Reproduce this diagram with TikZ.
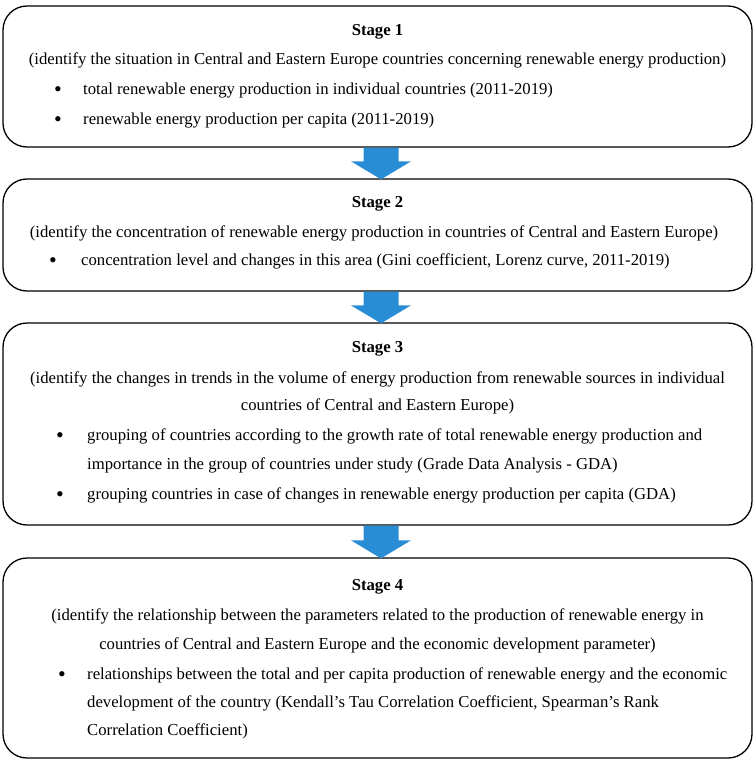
\documentclass[tikz,border=0pt]{standalone}
\usepackage{fontspec}
\setmainfont{Liberation Serif}
\usetikzlibrary{calc}
\definecolor{arrowblue}{RGB}{41,141,213}
\tikzset{
  stagebox/.style={draw=black, line width=1.3pt, rounded corners=24pt, fill=white, minimum width=749pt, inner sep=0pt},
  txt/.style={anchor=mid, inner sep=0pt, font=\fontsize{16.7}{18}\selectfont},
  ttl/.style={txt, font=\fontsize{16.7}{18}\selectfont\bfseries},
  lft/.style={txt, anchor=mid west},
  bul/.style={anchor=center, inner sep=0pt, font=\fontsize{22}{22}\selectfont},
  bigarrow/.style={fill=arrowblue}
}
\begin{document}
\begin{tikzpicture}[x=1pt,y=-1pt]
\useasboundingbox (0,0) rectangle (754,768);
% boxes
\node[stagebox, minimum height=141pt] (b1) at (377.5,76.5) {};
\node[stagebox, minimum height=112pt] (b2) at (377.5,235) {};
\node[stagebox, minimum height=202pt] (b3) at (377.5,424) {};
\node[stagebox, minimum height=200pt] (b4) at (377.5,658) {};
% arrows
\foreach \a/\b in {b1/b2,b2/b3,b3/b4}{
  \fill[bigarrow] ($(\a.south)+(-14,0)$) -- ($(\a.south)+(21,0)$) -- ($(\b.north)+(21,-17)$)
    -- ($(\b.north)+(33.5,-17)$) -- ($(\b.north)+(3.5,1)$) -- ($(\b.north)+(-26.5,-17)$)
    -- ($(\b.north)+(-14,-17)$) -- cycle;
}
% Stage 1
\node[ttl] (t1) at (377.5,33) {Stage 1};
\node[txt] (d1) at (377.5,62) {(identify the situation in Central and Eastern Europe countries concerning renewable energy production)};
\node[bul] (p1a) at (58,92) {\textbullet};
\node[lft] (l1a) at (83,92) {total renewable energy production in individual countries (2011-2019)};
\node[bul] (p1b) at (58,122) {\textbullet};
\node[lft] (l1b) at (83,122) {renewable energy production per capita (2011-2019)};
% Stage 2
\node[ttl] (t2) at (377.5,205) {Stage 2};
\node[txt] (d2) at (374,235) {(identify the concentration of renewable energy production in countries of Central and Eastern Europe)};
\node[bul] (p2a) at (53,263) {\textbullet};
\node[lft] (l2a) at (81,263) {concentration level and changes in this area (Gini coefficient, Lorenz curve, 2011-2019)};
% Stage 3
\node[ttl] (t3) at (377.5,350) {Stage 3};
\node[txt] (d3a) at (377.5,381) {(identify the changes in trends in the volume of energy production from renewable sources in individual};
\node[txt] (d3b) at (377.5,408) {countries of Central and Eastern Europe)};
\node[bul] (p3a) at (60,438) {\textbullet};
\node[lft] (l3a) at (87,438) {grouping of countries according to the growth rate of total renewable energy production and};
\node[lft] (l3b) at (87,467) {importance in the group of countries under study (Grade Data Analysis - GDA)};
\node[bul] (p3b) at (60,497) {\textbullet};
\node[lft] (l3c) at (87,497) {grouping countries in case of changes in renewable energy production per capita (GDA)};
% Stage 4
\node[ttl] (t4) at (377.5,588) {Stage 4};
\node[txt] (d4a) at (377.5,618) {(identify the relationship between the parameters related to the production of renewable energy in};
\node[txt] (d4b) at (377.5,647) {countries of Central and Eastern Europe and the economic development parameter)};
\node[bul] (p4a) at (62,677) {\textbullet};
\node[lft] (l4a) at (87,677) {relationships between the total and per capita production of renewable energy and the economic};
\node[lft] (l4b) at (87,705) {development of the country (Kendall’s Tau Correlation Coefficient, Spearman’s Rank};
\node[lft] (l4c) at (87,733) {Correlation Coefficient)};
\end{tikzpicture}
\end{document}
